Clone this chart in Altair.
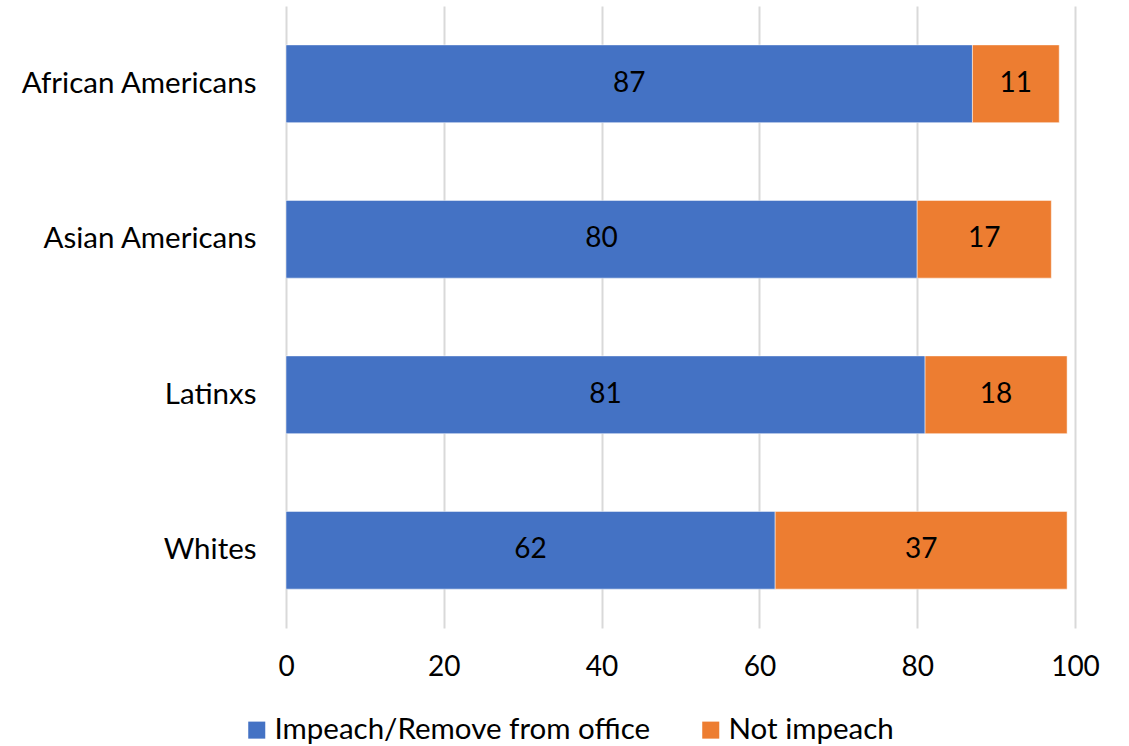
import altair as alt
import pandas as pd

groups = ["African Americans", "Asian Americans", "Latinxs", "Whites"]
impeach = [87, 80, 81, 62]
not_impeach = [11, 17, 18, 37]
series = ["Impeach/Remove from office", "Not impeach"]
colors = ["#4472C4", "#ED7D31"]

rows = []
for g, a, b in zip(groups, impeach, not_impeach):
    rows.append({"group": g, "series": series[0], "order": 0, "value": a, "start": 0, "end": a})
    rows.append({"group": g, "series": series[1], "order": 1, "value": b, "start": a, "end": a + b})
df = pd.DataFrame(rows)
df["mid"] = (df["start"] + df["end"]) / 2

FONT = "Lato"
FS = 28
FS_CAT = 29.5

y_enc = alt.Y(
    "group:N",
    sort=groups,
    scale=alt.Scale(paddingInner=0.5, paddingOuter=0.25),
    axis=alt.Axis(
        title=None, ticks=False, domain=False, grid=False,
        labelFontSize=FS_CAT, labelFont=FONT, labelColor="#000000",
        labelPadding=30, labelLimit=0,
    ),
)

bars = alt.Chart(df).mark_bar(stroke="white", strokeWidth=0.5).encode(
    x=alt.X(
        "start:Q",
        scale=alt.Scale(domain=[0, 100]),
        axis=alt.Axis(
            title=None, values=[0, 20, 40, 60, 80, 100], ticks=False, domain=False,
            grid=True, gridColor="#D9D9D9", gridWidth=2, labelFlush=False,
            labelFontSize=FS, labelFont=FONT, labelColor="#000000", labelPadding=25,
        ),
    ),
    x2="end:Q",
    y=y_enc,
    color=alt.Color(
        "series:N",
        scale=alt.Scale(domain=series, range=colors),
        legend=alt.Legend(
            title=None, orient="none", direction="horizontal",
            legendX=-44, legendY=709,
            symbolType="square", symbolSize=290, symbolStrokeWidth=0,
            labelFontSize=FS_CAT, labelFont=FONT, labelColor="#000000", labelLimit=0,
            columnPadding=45, labelOffset=3,
        ),
    ),
)

labels = alt.Chart(df).mark_text(fontSize=FS, font=FONT, color="#000000").encode(
    x="mid:Q",
    y=alt.Y("group:N", sort=groups),
    text="value:Q",
)

chart = (bars + labels).properties(
    width=789,
    height=622,
    autosize=alt.AutoSizeParams(type="none"),
    padding={"left": 286, "top": 6, "right": 54, "bottom": 118},
).configure_view(stroke=None)

chart.save("out.html", embed_options={"renderer": "svg", "actions": False})
